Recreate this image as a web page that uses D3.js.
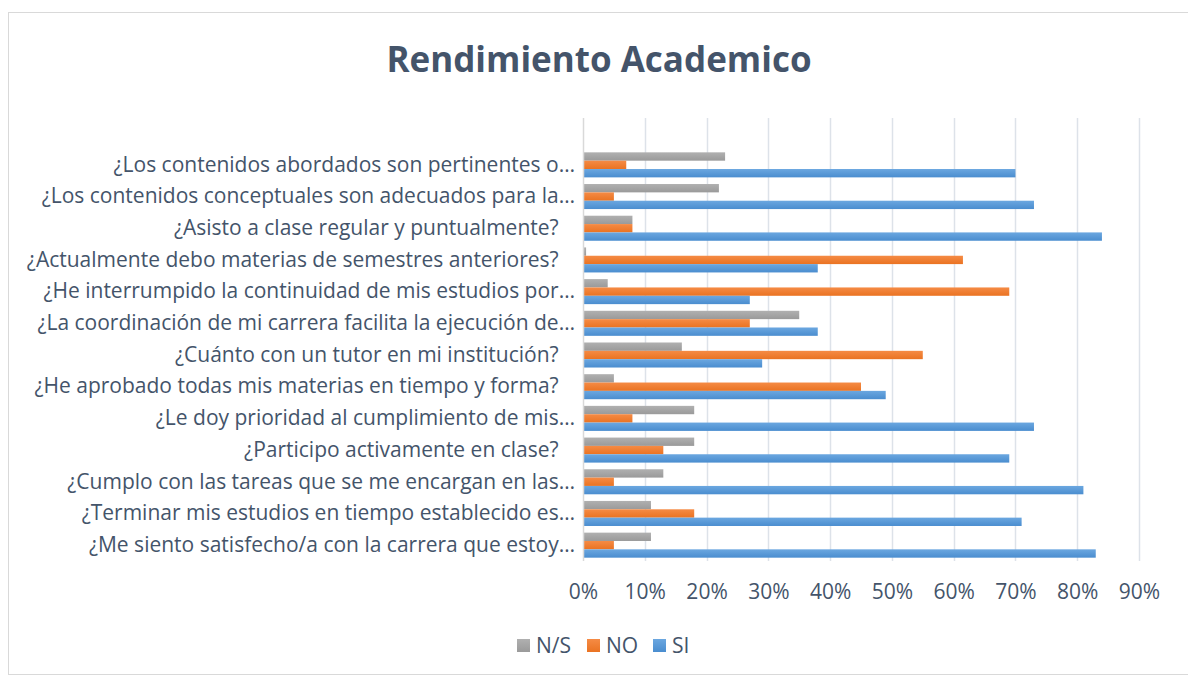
<!DOCTYPE html>
<html>
<head>
<meta charset="utf-8">
<script src="https://cdn.jsdelivr.net/npm/d3@7/dist/d3.min.js"></script>
<style>
  html, body { margin: 0; padding: 0; background: #fff; }
  svg text { font-family: "Open Sans", Lato, sans-serif; white-space: pre; }
</style>
</head>
<body>
<svg id="chart" width="1188" height="677"></svg>
<script>
const categories = [
  "¿Los contenidos abordados son pertinentes o…",
  "¿Los contenidos conceptuales son adecuados para la…",
  "¿Asisto a clase regular y puntualmente?   ",
  "¿Actualmente debo materias de semestres anteriores?   ",
  "¿He interrumpido la continuidad de mis estudios por…",
  "¿La coordinación de mi carrera facilita la ejecución de…",
  "¿Cuánto con un tutor en mi institución?   ",
  "¿He aprobado todas mis materias en tiempo y forma?   ",
  "¿Le doy prioridad al cumplimiento de mis…",
  "¿Participo activamente en clase?   ",
  "¿Cumplo con las tareas que se me encargan en las…",
  "¿Terminar mis estudios en tiempo establecido es…",
  "¿Me siento satisfecho/a con la carrera que estoy…"
];
const seriesNames = ["N/S", "NO", "SI"];
const nsValues = [0.23, 0.22, 0.08, 0.005, 0.04, 0.35, 0.16, 0.05, 0.18, 0.18, 0.13, 0.11, 0.11];
const noValues = [0.07, 0.05, 0.08, 0.615, 0.69, 0.27, 0.55, 0.45, 0.08, 0.13, 0.05, 0.18, 0.05];
const siValues = [0.70, 0.73, 0.84, 0.38, 0.27, 0.38, 0.29, 0.49, 0.73, 0.69, 0.81, 0.71, 0.83];
const tickValues = [0, 0.1, 0.2, 0.3, 0.4, 0.5, 0.6, 0.7, 0.8, 0.9];
const title = "Rendimiento Academico";

const seriesValues = [nsValues, noValues, siValues];
const colors = {
  "N/S": ["#B0B0B0", "#9A9A9A"],
  "NO":  ["#F58B45", "#EA7322"],
  "SI":  ["#6BA7E0", "#4A8DCF"]
};
const textColor = "#44546A";
const fontFamily = "'Open Sans', Lato, sans-serif";

const svg = d3.select("#chart");

// Gradients
const defs = svg.append("defs");
seriesNames.forEach((s, i) => {
  const g = defs.append("linearGradient").attr("id", "grad" + i)
    .attr("x1", 0).attr("y1", 0).attr("x2", 0).attr("y2", 1);
  g.append("stop").attr("offset", "0%").attr("stop-color", colors[s][0]);
  g.append("stop").attr("offset", "100%").attr("stop-color", colors[s][1]);
});

// Outer border
svg.append("rect").attr("x", 8.5).attr("y", 12.5).attr("width", 1185).attr("height", 662)
  .attr("fill", "none").attr("stroke", "#D9D9D9").attr("stroke-width", 1);

// Title
svg.append("text").attr("x", 599).attr("y", 72).attr("text-anchor", "middle")
  .attr("font-size", 35).attr("font-weight", "bold").attr("fill", textColor)
  .attr("font-family", fontFamily).text(title);

const plot = { left: 583, right: 1139, gridTop: 118, top: 149, bottom: 561 };

const x = d3.scaleLinear().domain([0, 0.9]).range([plot.left, plot.right]);
const y = d3.scaleBand().domain(categories).range([plot.top, plot.bottom])
  .paddingInner(0.21).paddingOuter(0.105);
const ySub = d3.scaleBand().domain(seriesNames).range([0, y.bandwidth()]).padding(0);

// Gridlines
svg.append("g").selectAll("line").data(tickValues.slice(1)).join("line")
  .attr("x1", d => Math.round(x(d)) + 0.5).attr("x2", d => Math.round(x(d)) + 0.5)
  .attr("y1", plot.gridTop).attr("y2", plot.bottom)
  .attr("stroke", "#DDE2E9").attr("stroke-width", 1.5);

// Bars
const groups = svg.append("g").selectAll("g").data(categories).join("g")
  .attr("transform", d => `translate(0,${y(d)})`);
groups.selectAll("rect")
  .data((c, ci) => seriesNames.map((s, si) => ({ s, si, v: seriesValues[si][ci] })))
  .join("rect")
  .attr("x", x(0))
  .attr("y", d => ySub(d.s))
  .attr("width", d => x(d.v) - x(0))
  .attr("height", ySub.bandwidth())
  .attr("fill", d => `url(#grad${d.si})`);

// Left axis line
svg.append("line").attr("x1", x(0) + 0.5).attr("x2", x(0) + 0.5)
  .attr("y1", plot.gridTop).attr("y2", plot.bottom)
  .attr("stroke", "#D9D9D9").attr("stroke-width", 1.5);

// Category labels (y axis)
const yAxis = d3.axisLeft(y).tickSize(0).tickPadding(8);
const yg = svg.append("g").attr("transform", `translate(${x(0)},0)`).call(yAxis);
yg.select(".domain").remove();
yg.selectAll("text").attr("font-size", 21).attr("fill", textColor)
  .attr("font-family", fontFamily);

// X axis tick labels
const xAxis = d3.axisBottom(x).tickValues(tickValues).tickSize(0).tickPadding(0)
  .tickFormat(d3.format(".0%"));
const xg = svg.append("g").attr("transform", `translate(0,${plot.bottom + 23})`).call(xAxis);
xg.select(".domain").remove();
xg.selectAll("text").attr("font-size", 21).attr("fill", textColor)
  .attr("font-family", fontFamily);

// Legend
const legendX = [517, 587, 653];
const legend = svg.append("g").selectAll("g").data(seriesNames).join("g")
  .attr("transform", (d, i) => `translate(${legendX[i]},639)`);
legend.append("rect").attr("width", 13).attr("height", 13)
  .attr("fill", (d, i) => `url(#grad${i})`);
legend.append("text").attr("x", 19).attr("y", 13.5).attr("font-size", 21)
  .attr("fill", textColor).attr("font-family", fontFamily).text(d => d);
</script>
</body>
</html>
